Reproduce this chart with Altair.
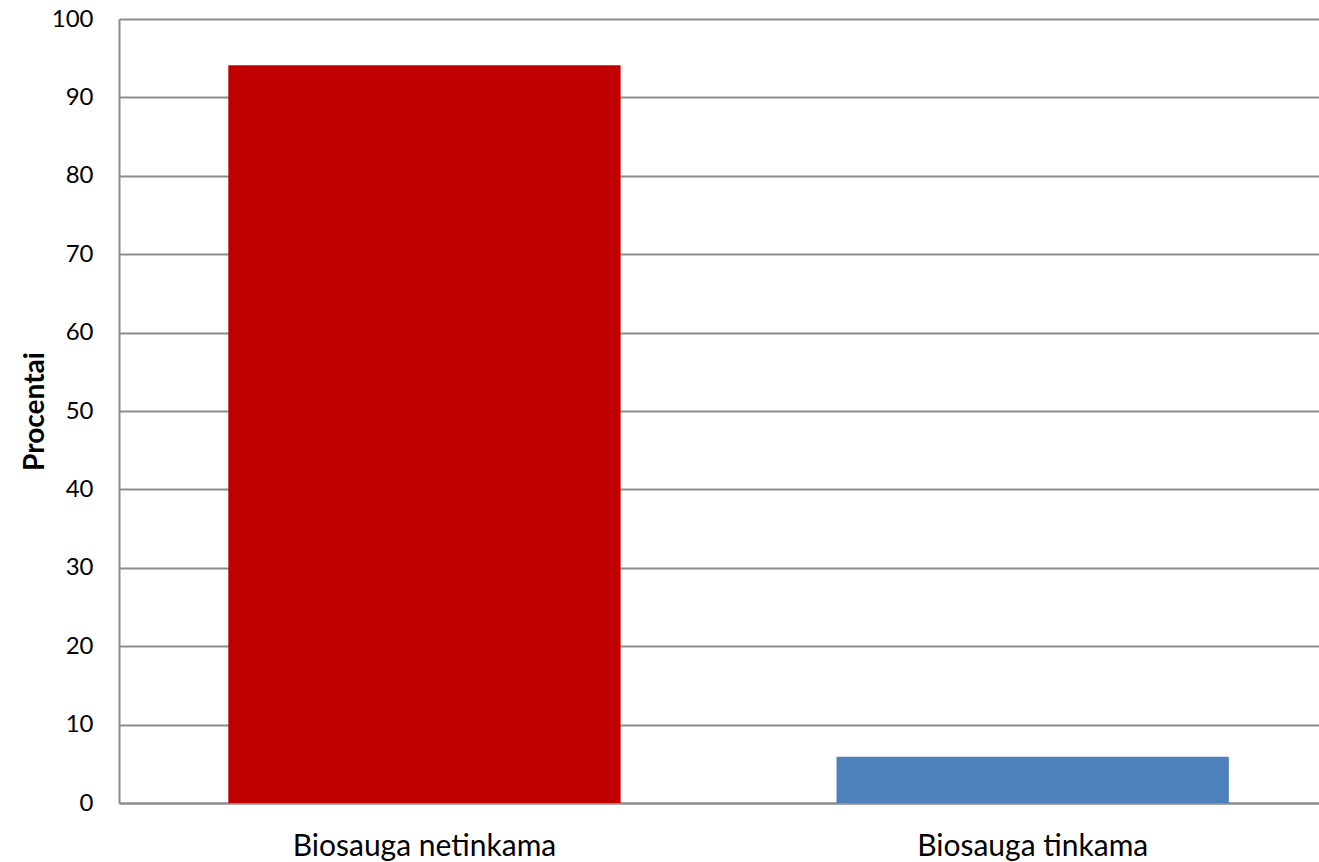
import altair as alt
import pandas as pd

categories = ["Biosauga netinkama", "Biosauga tinkama"]
values = [94.1, 5.9]
colors = ["#C00000", "#4F81BD"]

df = pd.DataFrame({"kategorija": categories, "procentai": values, "spalva": colors})

FONT = "Lato"
GRID = "#8c8c8c"

chart = (
    alt.Chart(df)
    .mark_bar()
    .encode(
        x=alt.X(
            "kategorija:N",
            sort=categories,
            title=None,
            scale=alt.Scale(paddingInner=0.355, paddingOuter=0.164, align=0.548),
            axis=alt.Axis(
                labelAngle=0,
                labelFontSize=30,
                labelFont=FONT,
                labelColor="#000000",
                labelPadding=28,
                labelLimit=0,
                ticks=False,
                domainColor=GRID,
                domainWidth=2,
                grid=False,
            ),
        ),
        y=alt.Y(
            "procentai:Q",
            title="Procentai",
            scale=alt.Scale(domain=[0, 100], nice=False),
            axis=alt.Axis(
                values=list(range(0, 101, 10)),
                labelFontSize=24,
                labelFont=FONT,
                labelColor="#000000",
                labelPadding=26,
                ticks=False,
                domainColor=GRID,
                domainWidth=2,
                gridColor=GRID,
                gridWidth=2,
                titleFont=FONT,
                titleFontSize=28,
                titleFontWeight="bold",
                titleColor="#000000",
                titlePadding=2,
            ),
        ),
        color=alt.Color("spalva:N", scale=None, legend=None),
    )
    .properties(
        width=1200,
        height=784,
        autosize=alt.AutoSizeParams(type="none"),
        padding={"left": 119, "top": 19, "right": 0, "bottom": 59},
        background="#ffffff",
    )
    .configure_view(stroke=None)
)

chart.save("out.html", embed_options={"renderer": "svg", "actions": False})
